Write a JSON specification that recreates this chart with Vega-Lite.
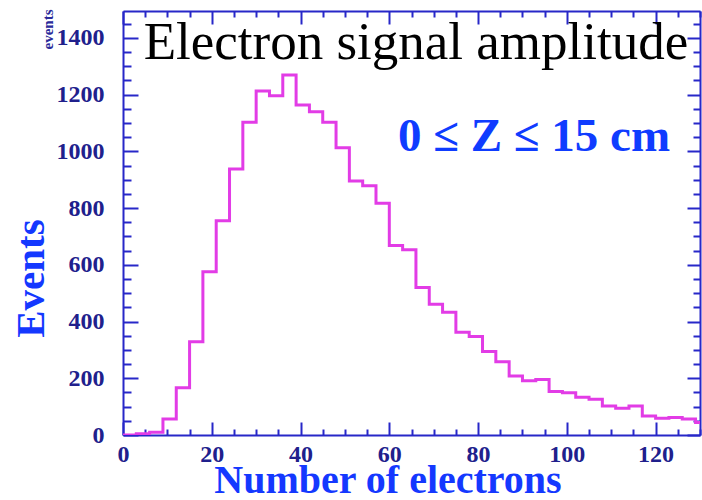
{
  "$schema": "https://vega.github.io/schema/vega-lite/v6.json",
  "width": 577,
  "height": 424,
  "autosize": "none",
  "padding": {"left": 123, "top": 11, "right": 2, "bottom": 65},
  "background": "white",
  "title": {
    "text": "Electron signal amplitude",
    "font": "Liberation Serif",
    "fontSize": 53,
    "fontWeight": "normal",
    "color": "black",
    "anchor": "middle",
    "frame": "group",
    "baseline": "alphabetic",
    "offset": 0,
    "dx": 4.5,
    "dy": 103
  },
  "config": {
    "view": {"stroke": null},
    "axis": {
      "domainColor": "#2727c8",
      "domainWidth": 2,
      "tickColor": "#2727c8",
      "tickWidth": 2,
      "grid": false,
      "labelFont": "Liberation Serif",
      "labelFontWeight": "bold",
      "labelFontSize": 24,
      "labelColor": "#20208c",
      "titleFont": "Liberation Serif",
      "titleFontWeight": "bold",
      "titleColor": "#1438ff"
    }
  },
  "data": {
    "values": [
      {"n": 0, "events": 0},
      {"n": 3, "events": 4},
      {"n": 6, "events": 10},
      {"n": 9, "events": 56},
      {"n": 12, "events": 167},
      {"n": 15, "events": 329},
      {"n": 18, "events": 576},
      {"n": 21, "events": 755},
      {"n": 24, "events": 938},
      {"n": 27, "events": 1103},
      {"n": 30, "events": 1213},
      {"n": 33, "events": 1196},
      {"n": 36, "events": 1269},
      {"n": 39, "events": 1164},
      {"n": 42, "events": 1140},
      {"n": 45, "events": 1103},
      {"n": 48, "events": 1013},
      {"n": 51, "events": 896},
      {"n": 54, "events": 879},
      {"n": 57, "events": 817},
      {"n": 60, "events": 668},
      {"n": 63, "events": 653},
      {"n": 66, "events": 520},
      {"n": 69, "events": 461},
      {"n": 72, "events": 433},
      {"n": 75, "events": 362},
      {"n": 78, "events": 347},
      {"n": 81, "events": 294},
      {"n": 84, "events": 258},
      {"n": 87, "events": 208},
      {"n": 90, "events": 191},
      {"n": 93, "events": 196},
      {"n": 96, "events": 153},
      {"n": 99, "events": 149},
      {"n": 102, "events": 133},
      {"n": 105, "events": 126},
      {"n": 108, "events": 102},
      {"n": 111, "events": 94},
      {"n": 114, "events": 102},
      {"n": 117, "events": 67},
      {"n": 120, "events": 59},
      {"n": 123, "events": 62},
      {"n": 126, "events": 56},
      {"n": 129, "events": 44},
      {"n": 132, "events": 44}
    ]
  },
  "layer": [
    {
      "mark": {"type": "line", "interpolate": "step-after", "color": "#e23ce6", "strokeWidth": 3, "clip": true},
      "encoding": {
        "x": {
          "field": "n",
          "type": "quantitative",
          "scale": {"domain": [0, 130], "nice": false, "zero": false},
          "axis": {
            "orient": "bottom",
            "values": [0,5,10,15,20,25,30,35,40,45,50,55,60,65,70,75,80,85,90,95,100,105,110,115,120,125,130],
            "tickSize": {"condition": {"test": "datum.value % 20 === 0", "value": -13}, "value": -6},
            "labelExpr": "datum.value % 20 === 0 ? datum.label : ''",
            "labelPadding": 20,
            "labelBaseline": "top",
            "labelFlush": false,
            "labelOverlap": false,
            "title": "Number of electrons",
            "titleFontSize": 40,
            "titleX": 264.5,
            "titleY": 57,
            "titleAlign": "center",
            "titleBaseline": "alphabetic"
          }
        },
        "y": {
          "field": "events",
          "type": "quantitative",
          "scale": {"domain": [0, 1495], "nice": false},
          "axis": {
            "orient": "left",
            "values": [0,50,100,150,200,250,300,350,400,450,500,550,600,650,700,750,800,850,900,950,1000,1050,1100,1150,1200,1250,1300,1350,1400,1450],
            "tickSize": {"condition": {"test": "datum.value % 200 === 0", "value": -15}, "value": -8},
            "labelExpr": "datum.value % 200 === 0 ? datum.label : ''",
            "format": "d",
            "labelPadding": 34,
            "labelFlush": false,
            "labelOverlap": false,
            "title": "Events",
            "titleFontSize": 41,
            "titleAngle": 270,
            "titleX": -80,
            "titleY": 267,
            "titleAlign": "center",
            "titleBaseline": "alphabetic"
          }
        }
      }
    },
    {
      "mark": {"type": "line", "interpolate": "step-after", "opacity": 0, "clip": true},
      "encoding": {
        "x": {
          "field": "n",
          "type": "quantitative",
          "scale": {"domain": [0, 130], "nice": false, "zero": false},
          "axis": {
            "orient": "top",
            "values": [0,5,10,15,20,25,30,35,40,45,50,55,60,65,70,75,80,85,90,95,100,105,110,115,120,125,130],
            "tickSize": {"condition": {"test": "datum.value % 20 === 0", "value": -13}, "value": -6},
            "labels": false,
            "title": "events",
            "titleFontSize": 15,
            "titleColor": "#2a2a9a",
            "titleAngle": 270,
            "titleX": -71,
            "titleY": 18,
            "titleAlign": "center",
            "titleBaseline": "alphabetic"
          }
        },
        "y": {
          "field": "events",
          "type": "quantitative",
          "scale": {"domain": [0, 1495], "nice": false},
          "axis": {
            "orient": "right",
            "values": [0,50,100,150,200,250,300,350,400,450,500,550,600,650,700,750,800,850,900,950,1000,1050,1100,1150,1200,1250,1300,1350,1400,1450],
            "tickSize": {"condition": {"test": "datum.value % 200 === 0", "value": -13}, "value": -7},
            "labels": false,
            "title": "0 ≤ Z ≤ 15 cm",
            "titleFontSize": 47,
            "titleColor": "#0f3cff",
            "titleAngle": 0,
            "titleX": -166.5,
            "titleY": 139,
            "titleAlign": "center",
            "titleBaseline": "alphabetic"
          }
        }
      }
    }
  ],
  "resolve": {"axis": {"x": "independent", "y": "independent"}}
}
